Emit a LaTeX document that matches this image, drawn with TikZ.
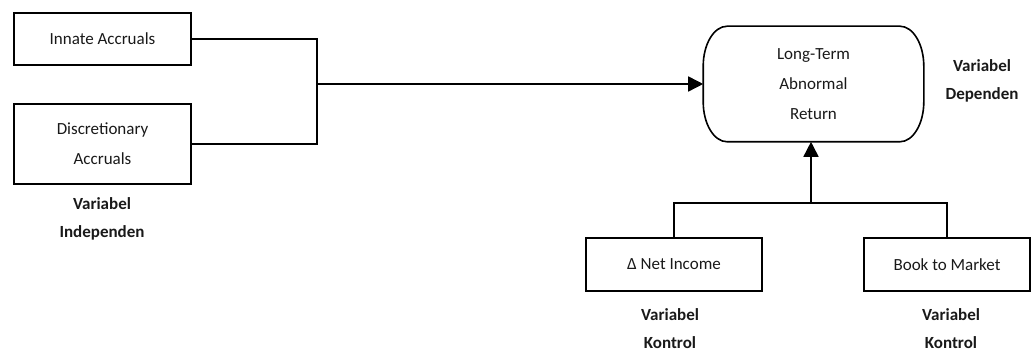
\documentclass[tikz,border=0pt]{standalone}
\usepackage{fontspec}
\setmainfont{Carlito}
\usetikzlibrary{arrows.meta}
\begin{document}
\begin{tikzpicture}[x=1pt,y=1pt,
  box/.style={draw, line width=1.6pt, align=center, inner sep=0pt,
    font=\fontsize{17}{30}\selectfont, text=black!90},
  lbl/.style={align=center, inner sep=0pt,
    font=\fontsize{17}{28}\selectfont\bfseries, text=black!90},
  conn/.style={line width=1.6pt},
  arr/.style={conn, -{Triangle[length=15pt,width=15pt]}}]
\useasboundingbox (0,0) rectangle (1032,353);
% nodes
\node[box, minimum width=177pt, minimum height=52pt] (ia) at (102.5,314) {Innate Accruals};
\node[box, minimum width=177pt, minimum height=80pt] (da) at (102.5,209) {Discretionary\\Accruals};
\node[lbl] (li) at (102,134) {Variabel\\Independen};
\node[box, draw=none, minimum width=219pt, minimum height=114pt] (ret) at (813.5,269) {Long-Term\\Abnormal\\Return};
\draw[conn] ([xshift=24]ret.north west) -- ([xshift=-24]ret.north east)
  arc[start angle=90,end angle=0,x radius=24,y radius=40]
  -- ([yshift=40]ret.south east)
  arc[start angle=0,end angle=-90,x radius=24,y radius=40]
  -- ([xshift=24]ret.south west)
  arc[start angle=270,end angle=180,x radius=24,y radius=40]
  -- ([yshift=-40]ret.north west)
  arc[start angle=180,end angle=90,x radius=24,y radius=40] -- cycle;
\node[lbl] (ld) at (982,272) {Variabel\\Dependen};
\node[box, minimum width=176pt, minimum height=53pt] (ni) at (674,88.5) {Δ Net Income};
\node[box, minimum width=166pt, minimum height=53pt] (bk) at (947,88.5) {Book to Market};
\node[lbl] (lk1) at (670,24) {Variabel\\Kontrol};
\node[lbl] (lk2) at (951,24) {Variabel\\Kontrol};
% connectors
\coordinate (j) at (317,269);
\draw[conn] (ia.east) -| (j);
\draw[conn] (da.east) -| (j);
\draw[arr] (j) -- (ret.west);
\coordinate (bus) at (811,150);
\draw[conn] (ni.north) |- (bus) -| (bk.north);
\draw[arr] (bus) -- (bus |- ret.south);
\end{tikzpicture}
\end{document}
